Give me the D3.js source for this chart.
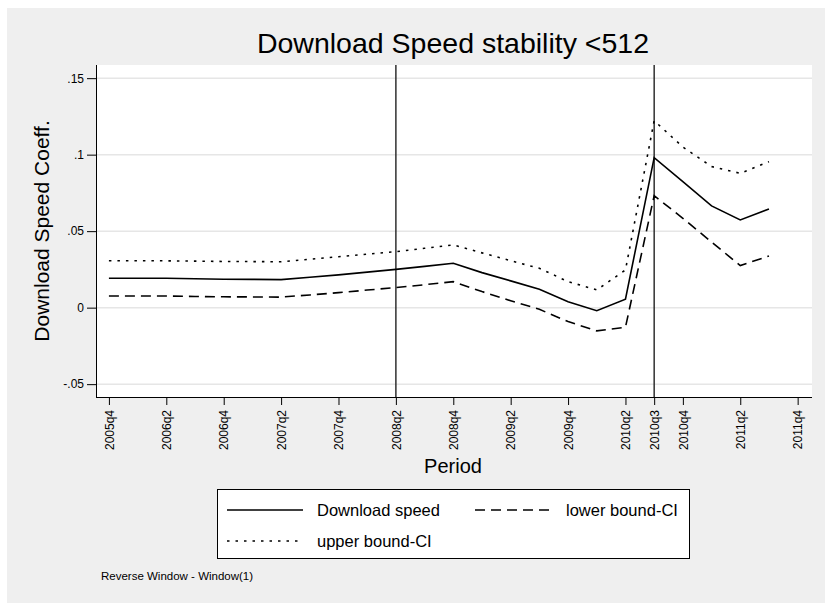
<!DOCTYPE html>
<html>
<head>
<meta charset="utf-8">
<script src="https://cdn.jsdelivr.net/npm/d3@7"></script>
<style>
  html, body { margin: 0; padding: 0; background: #ffffff; }
  svg { display: block; }
  text { font-family: "Liberation Sans", Arial, sans-serif; fill: #000; }
</style>
</head>
<body>
<svg id="chart" width="825" height="603"></svg>
<script>
// ---- Data ----
const quarters = ["2005q4","2006q1","2006q2","2006q3","2006q4","2007q1","2007q2","2007q3",
  "2007q4","2008q1","2008q2","2008q3","2008q4","2009q1","2009q2","2009q3","2009q4",
  "2010q1","2010q2","2010q3","2010q4","2011q1","2011q2","2011q3"];
const downloadSpeed = [0.0192,0.0192,0.0192,0.0189,0.0186,0.0185,0.0183,0.0199,
  0.0214,0.0232,0.0250,0.0270,0.0290,0.0229,0.0175,0.0120,0.0039,
  -0.0020,0.0055,0.0980,0.0823,0.0665,0.0573,0.0645];
const lowerCI = [0.0076,0.0076,0.0076,0.0073,0.0071,0.0070,0.0069,0.0083,
  0.0098,0.0115,0.0131,0.0150,0.0170,0.0105,0.0045,-0.0011,-0.0091,
  -0.0152,-0.0128,0.0732,0.0584,0.0429,0.0275,0.0338];
const upperCI = [0.0307,0.0307,0.0306,0.0304,0.0302,0.0301,0.0300,0.0316,
  0.0333,0.0350,0.0366,0.0388,0.0410,0.0358,0.0307,0.0257,0.0170,
  0.0116,0.0246,0.1222,0.1050,0.0922,0.0878,0.0954];
const xTickLabels = ["2005q4","2006q2","2006q4","2007q2","2007q4","2008q2","2008q4",
  "2009q2","2009q4","2010q2","2010q3","2010q4","2011q2","2011q4"];
const yTickValues = [-0.05, 0, 0.05, 0.1, 0.15];
const yTickLabels = ["-.05", "0", ".05", ".1", ".15"];
const referenceLines = ["2008q2", "2010q3"];
const seriesNames = ["Download speed", "lower bound-CI", "upper bound-CI"];
const titleText = "Download Speed stability <512";
const yTitle = "Download Speed Coeff.";
const xTitle = "Period";
const noteText = "Reverse Window - Window(1)";

// ---- Helpers ----
function qIndex(s) { const [y, q] = s.split("q"); return (+y) * 4 + (+q - 1); }

const svg = d3.select("#chart");
const W = 825, H = 603;
const plot = { left: 96, right: 812, top: 65, bottom: 397 };

// outer graph region
svg.append("rect").attr("x", 7).attr("y", 8).attr("width", W - 7).attr("height", H - 8).attr("fill", "#efefef");
// plot region
svg.append("rect").attr("x", plot.left).attr("y", plot.top)
  .attr("width", plot.right - plot.left).attr("height", plot.bottom - plot.top).attr("fill", "#ffffff");

const x = d3.scaleLinear()
  .domain([qIndex("2005q4") - 0.45, qIndex("2011q4") + 0.5])
  .range([plot.left, plot.right]);
const y = d3.scaleLinear()
  .domain([-0.0584, 0.1586])
  .range([plot.bottom, plot.top]);

// gridlines
svg.append("g").selectAll("line").data(yTickValues).join("line")
  .attr("x1", plot.left).attr("x2", plot.right)
  .attr("y1", d => y(d)).attr("y2", d => y(d))
  .attr("stroke", "#e6e6e6").attr("stroke-width", 1.5);

// reference lines
svg.append("g").selectAll("line").data(referenceLines).join("line")
  .attr("x1", d => x(qIndex(d))).attr("x2", d => x(qIndex(d)))
  .attr("y1", plot.top).attr("y2", plot.bottom)
  .attr("stroke", "#222").attr("stroke-width", 1.4);

// series
const line = d3.line().x((d, i) => x(qIndex(quarters[i]))).y(d => y(d));
const seriesData = [
  { values: downloadSpeed, dash: null },
  { values: lowerCI, dash: "10,6" },
  { values: upperCI, dash: "2.5,6" }
];
svg.append("g").selectAll("path").data(seriesData).join("path")
  .attr("d", d => line(d.values))
  .attr("fill", "none").attr("stroke", "#000").attr("stroke-width", 1.6)
  .attr("stroke-dasharray", d => d.dash);

// axes
const yAxis = d3.axisLeft(y).tickValues(yTickValues)
  .tickFormat((d, i) => yTickLabels[i]).tickSize(9).tickPadding(3);
const gy = svg.append("g").attr("transform", `translate(${plot.left},0)`).call(yAxis);
gy.select(".domain").attr("d", `M0.5,${plot.top}V${plot.bottom}`).attr("stroke", "#000");
gy.selectAll(".tick line").attr("stroke", "#000");
gy.selectAll(".tick text").attr("font-size", 12).attr("font-family", "Liberation Sans, Arial, sans-serif").attr("fill", "#000");

const xAxis = d3.axisBottom(x).tickValues(xTickLabels.map(qIndex))
  .tickFormat((d, i) => xTickLabels[i]).tickSize(8);
const gx = svg.append("g").attr("transform", `translate(0,${plot.bottom})`).call(xAxis);
gx.select(".domain").attr("d", `M${plot.left},0.5H${plot.right}`).attr("stroke", "#000");
gx.selectAll(".tick line").attr("stroke", "#000");
gx.selectAll(".tick text")
  .attr("font-size", 12).attr("font-family", "Liberation Sans, Arial, sans-serif").attr("fill", "#000")
  .attr("transform", "rotate(-90)")
  .attr("x", -13).attr("y", 0).attr("dy", "0.35em")
  .attr("text-anchor", "end");

// titles
svg.append("text").attr("x", 453).attr("y", 53).attr("text-anchor", "middle")
  .attr("font-size", 28.5).text(titleText);
svg.append("text").attr("transform", `translate(49,${(plot.top + plot.bottom) / 2}) rotate(-90)`)
  .attr("text-anchor", "middle").attr("font-size", 21).text(yTitle);
svg.append("text").attr("x", 453).attr("y", 473).attr("text-anchor", "middle")
  .attr("font-size", 20).text(xTitle);

// legend
const lg = svg.append("g");
lg.append("rect").attr("x", 217.5).attr("y", 489.5).attr("width", 472).attr("height", 69)
  .attr("fill", "#fff").attr("stroke", "#000").attr("stroke-width", 1);
const legendItems = [
  { name: seriesNames[0], dash: null, x0: 227, x1: 303, tx: 317, cy: 510 },
  { name: seriesNames[1], dash: "10,6", x0: 475, x1: 553, tx: 566, cy: 510 },
  { name: seriesNames[2], dash: "2.5,6", x0: 227, x1: 303, tx: 317, cy: 541 }
];
const li = lg.selectAll("g.item").data(legendItems).join("g").attr("class", "item");
li.append("line").attr("x1", d => d.x0).attr("x2", d => d.x1)
  .attr("y1", d => d.cy).attr("y2", d => d.cy)
  .attr("stroke", "#000").attr("stroke-width", 1.6).attr("stroke-dasharray", d => d.dash);
li.append("text").attr("x", d => d.tx).attr("y", d => d.cy + 6)
  .attr("font-size", 16.5).text(d => d.name);

// note
svg.append("text").attr("x", 101).attr("y", 580).attr("font-size", 11.5).text(noteText);
</script>
</body>
</html>
